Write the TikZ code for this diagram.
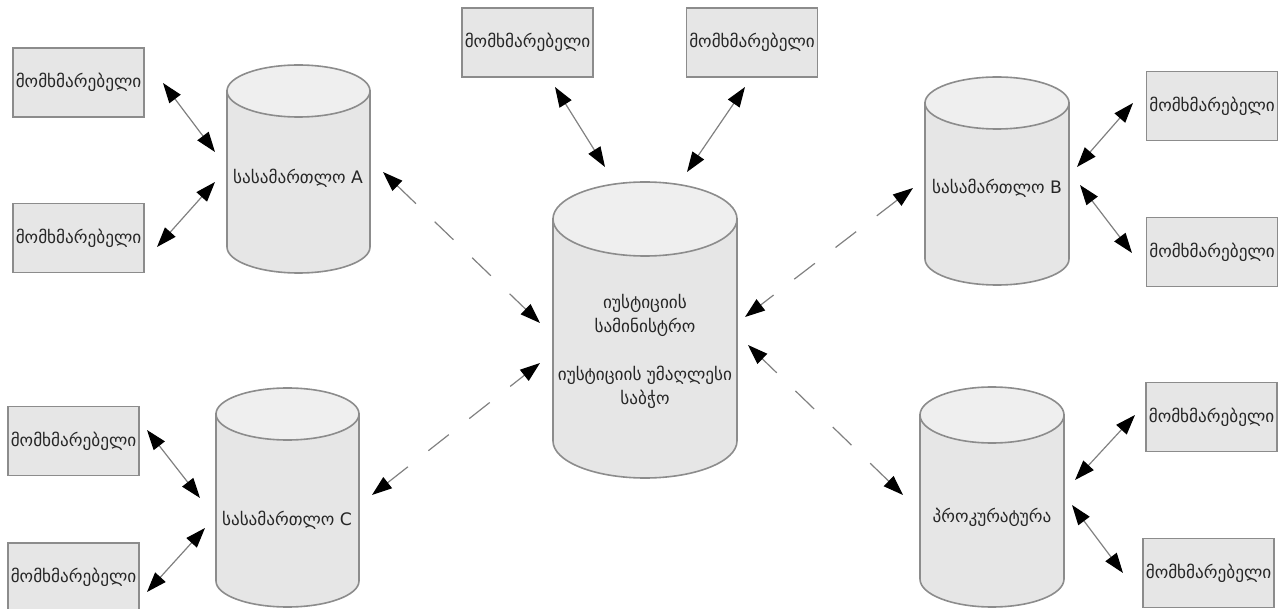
\documentclass[tikz,border=0pt]{standalone}
\usepackage{fontspec}
\setmainfont{DejaVu Sans}
\usetikzlibrary{arrows.meta,positioning}

\definecolor{boxfill}{HTML}{E6E6E6}
\definecolor{boxline}{HTML}{8C8C8C}
\definecolor{cyltop}{HTML}{EFEFEF}
\definecolor{linkgray}{HTML}{808080}

% database drum: left x, right x, top y, bottom y, half height of the ellipse
\newcommand{\dbcyl}[5]{%
  \pgfmathsetmacro\cylcx{(#1+#2)/2}
  \pgfmathsetmacro\cylrx{(#2-#1)/2}
  \pgfmathsetmacro\cylyt{-(#3)-(#5)}
  \pgfmathsetmacro\cylyb{-(#4)+(#5)}
  \filldraw[cylbody] (#1,\cylyt) -- (#1,\cylyb)
    arc[start angle=180, end angle=360, x radius=\cylrx, y radius=#5]
    -- (#2,\cylyt) -- cycle;
  \filldraw[cylend] (\cylcx,\cylyt) ellipse[x radius=\cylrx, y radius=#5];
}

\begin{document}
\begin{tikzpicture}[x=0.5pt,y=0.5pt]
  \tikzset{
    user/.style={draw=boxline, fill=boxfill, line width=0.8pt, minimum width=65.5pt, minimum height=34.5pt, inner sep=1pt, font=\fontsize{8.6}{11}\selectfont, text=black!85},
    cylbody/.style={draw=boxline, fill=boxfill, line width=0.8pt},
    cylend/.style={draw=boxline, fill=cyltop, line width=0.8pt},
    cyltext/.style={align=center, font=\fontsize{8.6}{12}\selectfont, text=black!85},
    link/.style={{Triangle[length=10pt,width=7pt,color=black]}-{Triangle[length=10pt,width=7pt,color=black]}, draw=linkgray, line width=0.6pt},
    dlink/.style={link, dash pattern=on 13pt off 13pt}
  }
  \useasboundingbox (0,0) rectangle (1281,-609);

  % Databases
  \dbcyl{227}{370}{65}{273}{26}
  \dbcyl{553}{737}{182}{478}{37}
  \dbcyl{925}{1069}{77}{285}{26}
  \dbcyl{216}{359}{388}{607}{26}
  \dbcyl{920}{1064}{387}{607}{28}

  \node[cyltext] (courtA) at (298,-178) {სასამართლო A};
  \node[cyltext] (courtB) at (997,-188) {სასამართლო B};
  \node[cyltext] (courtC) at (287,-520) {სასამართლო C};
  \node[cyltext] (prosec) at (992,-517) {პროკურატურა};
  \node[cyltext] (minist) at (645,-351) {იუსტიციის\\სამინისტრო\\[12pt]იუსტიციის უმაღლესი\\საბჭო};

  % Users
  \node[user] (uA1) at (78.5,-82.5) {მომხმარებელი};
  \node[user] (uA2) at (78.5,-238) {მომხმარებელი};
  \node[user] (uT1) at (527.5,-42.5) {მომხმარებელი};
  \node[user] (uT2) at (752,-42.5) {მომხმარებელი};
  \node[user] (uB1) at (1212,-106) {მომხმარებელი};
  \node[user] (uB2) at (1212,-252) {მომხმარებელი};
  \node[user] (uC1) at (73.5,-441) {მომხმარებელი};
  \node[user] (uC2) at (73.5,-577.5) {მომხმარებელი};
  \node[user] (uP1) at (1211.5,-417) {მომხმარებელი};
  \node[user] (uP2) at (1208.5,-573) {მომხმარებელი};

  % Arrow ends
  \coordinate (a1) at (163,-83);   \coordinate (a1') at (215,-152);
  \coordinate (a2) at (157,-247);  \coordinate (a2') at (215,-182);
  \coordinate (t1) at (555,-87);   \coordinate (t1') at (605,-167);
  \coordinate (t2) at (745,-87);   \coordinate (t2') at (687,-172);
  \coordinate (b1) at (1133,-103); \coordinate (b1') at (1077,-167);
  \coordinate (b2) at (1132,-253); \coordinate (b2') at (1080,-185);
  \coordinate (c1) at (147,-430);  \coordinate (c1') at (200,-498);
  \coordinate (c2) at (147,-592);  \coordinate (c2') at (205,-528);
  \coordinate (p1) at (1135,-415); \coordinate (p1') at (1075,-480);
  \coordinate (p2) at (1123,-573); \coordinate (p2') at (1072,-505);
  \coordinate (mA) at (540,-323);  \coordinate (Am) at (383,-172);
  \coordinate (mB) at (745,-317);  \coordinate (Bm) at (913,-188);
  \coordinate (mC) at (540,-363);  \coordinate (Cm) at (372,-495);
  \coordinate (mP) at (748,-345);  \coordinate (Pm) at (903,-495);

  % Links
  \draw[link] (a1) -- (a1');
  \draw[link] (a2) -- (a2');
  \draw[link] (t1) -- (t1');
  \draw[link] (t2) -- (t2');
  \draw[link] (b1) -- (b1');
  \draw[link] (b2) -- (b2');
  \draw[link] (c1) -- (c1');
  \draw[link] (c2) -- (c2');
  \draw[link] (p1) -- (p1');
  \draw[link] (p2) -- (p2');
  \draw[dlink] (Am) -- (mA);
  \draw[dlink] (Bm) -- (mB);
  \draw[dlink] (Cm) -- (mC);
  \draw[dlink] (Pm) -- (mP);
\end{tikzpicture}
\end{document}
